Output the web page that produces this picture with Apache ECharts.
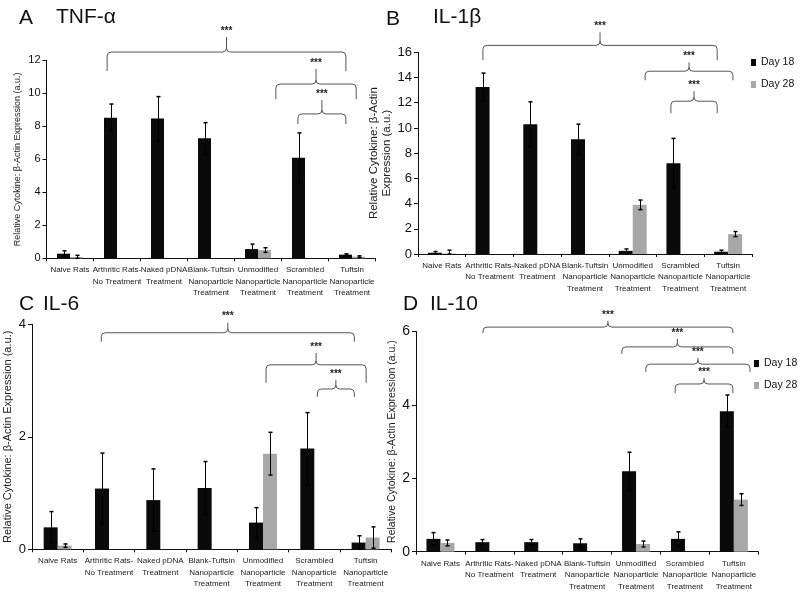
<!DOCTYPE html>
<html><head><meta charset="utf-8">
<script src="https://cdn.jsdelivr.net/npm/echarts@6/dist/echarts.min.js"></script>
<style>html,body{margin:0;padding:0;background:#fff}#c{width:800px;height:599px}</style>
</head><body><div id="c"></div>
<script>
// ---------- DATA ----------
const categories = ['Naive Rats', 'Arthritic Rats-\nNo Treatment', 'Naked pDNA\nTreatment',
  'Blank-Tuftsin\nNanoparticle\nTreatment', 'Unmodified\nNanoparticle\nTreatment',
  'Scrambled\nNanoparticle\nTreatment', 'Tuftsin\nNanoparticle\nTreatment'];
const seriesNames = ['Day 18', 'Day 28'];
const yAxisTitle = 'Relative Cytokine: β-Actin Expression (a.u.)';
const yAxisTitleB = 'Relative Cytokine: β-Actin\nExpression (a.u.)';

// Panel A: TNF-α
const tnfDay18 = [0.28, 8.52, 8.47, 7.27, 0.56, 6.1, 0.22];
const tnfDay18Err = [0.17, 0.83, 1.33, 0.95, 0.3, 1.5, 0.05];
const tnfDay28 = [0.08, null, null, null, 0.5, null, 0.1];
const tnfDay28Err = [0.1, null, null, null, 0.14, null, 0.05];
const tnfTicks = [0, 2, 4, 6, 8, 10, 12];
// brackets: [fromCategory, toCategory, armEnd, line, peak]
const tnfBrackets = [[0.79, 5.87, 11.35, 12.5, 13.41], [4.38, 6.09, 9.65, 10.56, 11.47], [4.85, 5.87, 8.14, 8.75, 9.59]];

// Panel B: IL-1β
const il1Day18 = [0.1, 13.25, 10.3, 9.1, 0.25, 7.2, 0.18];
const il1Day18Err = [0.1, 1.1, 1.77, 1.2, 0.15, 1.97, 0.12];
const il1Day28 = [0.03, null, null, null, 3.9, null, 1.58];
const il1Day28Err = [0.27, null, null, null, 0.38, null, 0.2];
const il1Ticks = [0, 2, 4, 6, 8, 10, 12, 14, 16];
const il1Brackets = [[0.86, 5.77, 15.37, 16.55, 17.58], [4.26, 6.1, 13.78, 14.5, 15.2], [4.8, 5.77, 11.17, 12.12, 12.91]];

// Panel C: IL-6
const il6Day18 = [0.39, 1.08, 0.875, 1.09, 0.475, 1.79, 0.12];
const il6Day18Err = [0.28, 0.63, 0.555, 0.47, 0.265, 0.64, 0.12];
const il6Day28 = [0.065, null, null, null, 1.7, null, 0.21];
const il6Day28Err = [0.03, null, null, null, 0.38, null, 0.19];
const il6Ticks = [0, 2, 4];
const il6Brackets = [[0.85, 5.78, 3.69, 3.85, 4.03], [4.06, 6.01, 2.96, 3.28, 3.49], [5.06, 5.78, 2.71, 2.85, 3.01]];

// Panel D: IL-10
const il10Day18 = [0.35, 0.26, 0.26, 0.23, 2.19, 0.35, 3.83];
const il10Day18Err = [0.17, 0.07, 0.07, 0.12, 0.52, 0.19, 0.44];
const il10Day28 = [0.24, null, null, null, 0.21, null, 1.42];
const il10Day28Err = [0.08, null, null, null, 0.08, null, 0.16];
const il10Ticks = [0, 2, 4, 6];
const il10Brackets = [[0.87, 5.98, 5.96, 6.12, 6.29], [3.71, 5.98, 5.39, 5.58, 5.8], [4.2, 6.33, 4.9, 5.11, 5.28], [4.8, 5.98, 4.32, 4.57, 4.73]];

// ---------- STYLE / LAYOUT ----------
const BLACK = '#0a0a0a', GRAY = '#a8a8a8';
const SANS = '"Liberation Sans",Arial,sans-serif';

const panels = [
  { d18: tnfDay18, e18: tnfDay18Err, d28: tnfDay28, e28: tnfDay28Err, ticks: tnfTicks, brackets: tnfBrackets,
    grid: { left: 46.5, right: 424.5, top: 60.3, bottom: 340.7 }, barW: 13, labelSize: 11,
    name: yAxisTitle, nameGap: 21, nameSize: 9 },
  { d18: il1Day18, e18: il1Day18Err, d28: il1Day28, e28: il1Day28Err, ticks: il1Ticks, brackets: il1Brackets,
    grid: { left: 418, right: 48, top: 52.3, bottom: 345 }, barW: 14, labelSize: 13,
    name: yAxisTitleB, nameGap: 19, nameSize: 11.5 },
  { d18: il6Day18, e18: il6Day18Err, d28: il6Day28, e28: il6Day28Err, ticks: il6Ticks, brackets: il6Brackets,
    grid: { left: 32, right: 408.7, top: 324.3, bottom: 49.7 }, barW: 14, labelSize: 13,
    name: yAxisTitle, nameGap: 16, nameSize: 11 },
  { d18: il10Day18, e18: il10Day18Err, d28: il10Day28, e28: il10Day28Err, ticks: il10Ticks, brackets: il10Brackets,
    grid: { left: 416, right: 41.7, top: 331.5, bottom: 47.3 }, barW: 14, labelSize: 14,
    name: yAxisTitle, nameGap: 13, nameSize: 10.5 }
];

function errData(vals, errs) {
  const out = [];
  vals.forEach((v, i) => {
    if (v != null && errs[i] != null) out.push([i, Math.max(0, v - errs[i]), v + errs[i]]);
  });
  return out;
}

function errRender(sign, barW) {
  return function (params, api) {
    const cat = api.value(0), lo = api.value(1), hi = api.value(2);
    const pHi = api.coord([cat, hi]), pLo = api.coord([cat, lo]);
    const x = Math.round(pHi[0] + sign * barW / 2) + 0.5;
    const cap = 2;
    return { type: 'group', children: [
      { type: 'line', shape: { x1: x, y1: pLo[1], x2: x, y2: pHi[1] }, style: { stroke: '#000', lineWidth: 1 } },
      { type: 'line', shape: { x1: x - cap, y1: pHi[1], x2: x + cap, y2: pHi[1] }, style: { stroke: '#000', lineWidth: 1.5 } },
      { type: 'line', shape: { x1: x - cap, y1: pLo[1], x2: x + cap, y2: pLo[1] }, style: { stroke: '#000', lineWidth: 1.5 } }
    ] };
  };
}

function bracketRender(params, api) {
  const c0 = api.coord([0, 0]), c1 = api.coord([1, 0]);
  const step = c1[0] - c0[0];
  const x1 = c0[0] + api.value(1) * step;
  const x2 = c0[0] + api.value(2) * step;
  const yArm = api.coord([0, api.value(3)])[1];
  const yLine = api.coord([0, api.value(4)])[1];
  const yPeak = api.coord([0, api.value(5)])[1];
  const mid = (x1 + x2) / 2;
  const r = 4;
  const path = `M${x1} ${yArm} L${x1} ${yLine + r} Q${x1} ${yLine} ${x1 + r} ${yLine} L${mid - r} ${yLine} Q${mid} ${yLine} ${mid} ${yLine - r} L${mid} ${yPeak} ` +
    `M${mid} ${yLine - r} Q${mid} ${yLine} ${mid + r} ${yLine} L${x2 - r} ${yLine} Q${x2} ${yLine} ${x2} ${yLine + r} L${x2} ${yArm}`;
  return { type: 'group', children: [
    { type: 'path', shape: { pathData: path }, style: { stroke: '#555', lineWidth: 1, fill: null } },
    { type: 'text', x: mid, y: yPeak - 6, style: { text: '***', fill: '#222', font: 'bold 10px ' + SANS, align: 'center', verticalAlign: 'middle' } }
  ] };
}

const grid = [], xAxis = [], yAxis = [], series = [];
panels.forEach((p, k) => {
  grid.push(p.grid);
  xAxis.push({
    type: 'category', gridIndex: k, data: categories,
    axisLine: { lineStyle: { color: '#111', width: 1 } },
    axisTick: { show: true, interval: 0, length: 3, lineStyle: { color: '#111' } },
    axisLabel: { interval: 0, fontFamily: SANS, fontSize: 8, lineHeight: 11.5, color: '#1a1a1a', margin: 6 }
  });
  const t = p.ticks;
  yAxis.push({
    type: 'value', gridIndex: k, min: t[0], max: t[t.length - 1], interval: t[1] - t[0],
    axisLine: { show: true, lineStyle: { color: '#111', width: 1 } },
    axisTick: { show: true, length: 4, lineStyle: { color: '#111' } },
    splitLine: { show: false },
    axisLabel: { fontFamily: SANS, fontSize: p.labelSize, color: '#111', margin: 6 },
    name: p.name, nameLocation: 'middle', nameGap: p.nameGap, nameRotate: 90,
    nameTextStyle: { fontFamily: SANS, fontSize: p.nameSize, color: '#222', lineHeight: 13 }
  });
  series.push({ name: seriesNames[0], type: 'bar', xAxisIndex: k, yAxisIndex: k, data: p.d18,
    barWidth: p.barW, barGap: '0%', itemStyle: { color: BLACK }, silent: true });
  series.push({ name: seriesNames[1], type: 'bar', xAxisIndex: k, yAxisIndex: k, data: p.d28,
    barWidth: p.barW, barGap: '0%', itemStyle: { color: GRAY }, silent: true });
  series.push({ name: 'err18_' + k, type: 'custom', xAxisIndex: k, yAxisIndex: k, data: errData(p.d18, p.e18),
    renderItem: errRender(-1, p.barW), z: 5, silent: true });
  series.push({ name: 'err28_' + k, type: 'custom', xAxisIndex: k, yAxisIndex: k, data: errData(p.d28, p.e28),
    renderItem: errRender(1, p.barW), z: 5, silent: true });
  series.push({ name: 'sig_' + k, type: 'custom', xAxisIndex: k, yAxisIndex: k,
    data: p.brackets.map(b => [0, b[0], b[1], b[2], b[3], b[4]]),
    encode: { x: 0, y: 4 }, renderItem: bracketRender, clip: false, z: 6, silent: true });
});

function titleText(x, y, text) {
  return { type: 'text', x: x, y: y, style: { text: text, font: '21px ' + SANS, fill: '#111', verticalAlign: 'middle' } };
}

const legendCommon = { data: seriesNames, orient: 'vertical', icon: 'rect', itemWidth: 5, itemHeight: 7, itemGap: 11,
  padding: 0, textStyle: { fontFamily: SANS, fontSize: 10.5, color: '#111' }, selectedMode: false };

const chart = echarts.init(document.getElementById('c'), null, { renderer: 'canvas' });
chart.setOption({
  backgroundColor: '#fff',
  animation: false,
  grid: grid, xAxis: xAxis, yAxis: yAxis, series: series,
  legend: [
    Object.assign({ left: 751, top: 57 }, legendCommon),
    Object.assign({ left: 754, top: 358 }, legendCommon)
  ],
  graphic: [
    titleText(19, 18, 'A'), titleText(56, 17, 'TNF-α'),
    titleText(386, 19, 'B'), titleText(433, 17, 'IL-1β'),
    titleText(19, 304, 'C'), titleText(43, 304, 'IL-6'),
    titleText(403, 304, 'D'), titleText(430, 304, 'IL-10')
  ]
});
</script></body></html>
